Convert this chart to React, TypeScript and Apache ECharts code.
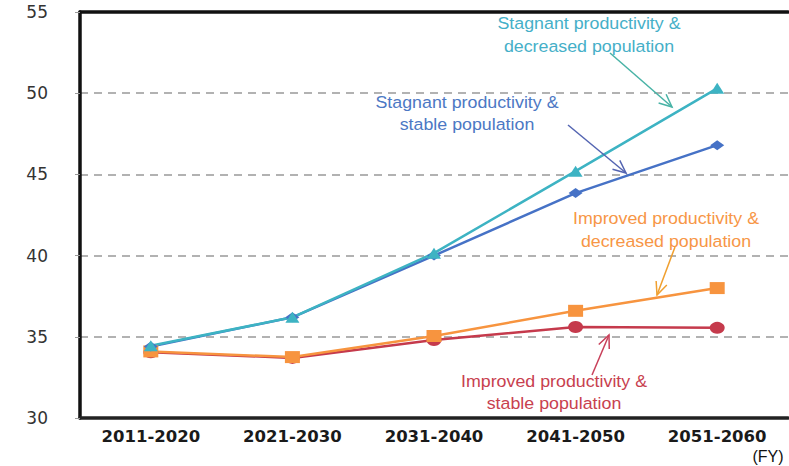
import React, { useEffect, useRef } from "react";
import * as echarts from "echarts";

const categories = ["2011-2020", "2021-2030", "2031-2040", "2041-2050", "2051-2060"];
const stagnantDecreased = [34.45, 36.2, 40.15, 45.2, 50.3];
const stagnantStable = [34.4, 36.2, 40.0, 43.85, 46.8];
const improvedDecreased = [34.1, 33.75, 35.05, 36.6, 38.0];
const improvedStable = [34.05, 33.7, 34.8, 35.6, 35.55];
const yTicks = { min: 30, max: 55, interval: 5 };

function arrow(x1: number, y1: number, x2: number, y2: number, color: string) {
  const ang = Math.atan2(y2 - y1, x2 - x1);
  const len = 14;
  const spread = 0.42;
  const ax = x2 - len * Math.cos(ang - spread);
  const ay = y2 - len * Math.sin(ang - spread);
  const bx = x2 - len * Math.cos(ang + spread);
  const by = y2 - len * Math.sin(ang + spread);
  return [
    { type: "line", shape: { x1, y1, x2, y2 }, style: { stroke: color, lineWidth: 1.5 }, z: 10 },
    {
      type: "polyline",
      shape: { points: [[ax, ay], [x2, y2], [bx, by]] },
      style: { stroke: color, lineWidth: 1.5, fill: null },
      z: 10,
    },
  ];
}

function label(text: string, x: number, y: number, color: string) {
  return {
    type: "text",
    x,
    y,
    scaleX: 1.08,
    z: 10,
    style: {
      text,
      fill: color,
      font: '16.5px "Liberation Sans", Arial, sans-serif',
      textAlign: "center",
      textVerticalAlign: "middle",
    },
  };
}

export default function App() {
  const ref = useRef<HTMLDivElement>(null);
  useEffect(() => {
    document.body.style.margin = "0";
    const chart = echarts.init(ref.current!, null, { renderer: "svg" });
    const teal = "#3DB3C3";
    const blue = "#4672C6";
    const orange = "#F7943F";
    const red = "#C53A4C";
    chart.setOption({
      animation: false,
      backgroundColor: "#ffffff",
      grid: { left: 80, right: 1, top: 12, bottom: 48 },
      xAxis: [
        {
          type: "category",
          data: categories,
          boundaryGap: true,
          axisLine: { lineStyle: { color: "#222", width: 3.5 } },
          axisTick: { show: false },
          axisLabel: {
            color: "#1a1a1a",
            fontFamily: '"DejaVu Sans", Verdana, sans-serif',
            fontSize: 16.5,
            fontWeight: "bold",
            margin: 10,
          },
        },
        {
          type: "category",
          data: categories,
          position: "top",
          axisLine: { lineStyle: { color: "#111", width: 3.5 } },
          axisTick: { show: false },
          axisLabel: { show: false },
        },
      ],
      yAxis: {
        type: "value",
        min: yTicks.min,
        max: yTicks.max,
        interval: yTicks.interval,
        axisLine: { show: true, lineStyle: { color: "#111", width: 3.5 } },
        axisTick: { show: true, length: 5, lineStyle: { color: "#999" } },
        axisLabel: {
          color: "#333",
          fontFamily: '"DejaVu Sans", Verdana, sans-serif',
          fontSize: 17,
          margin: 32,
        },
        splitLine: { show: true, lineStyle: { color: "#999", type: [8, 6], width: 1.5 } },
      },
      series: [
        {
          type: "line",
          data: improvedStable,
          color: red,
          symbol: "circle",
          symbolSize: [15, 12],
          lineStyle: { width: 2.5 },
        },
        {
          type: "line",
          data: improvedDecreased,
          color: orange,
          symbol: "rect",
          symbolSize: [15, 12],
          lineStyle: { width: 2.5 },
        },
        {
          type: "line",
          data: stagnantStable,
          color: blue,
          symbol: "diamond",
          symbolSize: [14, 10],
          lineStyle: { width: 2.5 },
        },
        {
          type: "line",
          data: stagnantDecreased,
          color: teal,
          symbol: "triangle",
          symbolSize: [14, 11],
          lineStyle: { width: 2.5 },
        },
      ],
      graphic: [
        label("Stagnant productivity &", 589, 23, "#45AFC8"),
        label("decreased population", 589, 46, "#45AFC8"),
        ...arrow(610, 53, 672, 107, "#48B3A6"),
        label("Stagnant productivity &", 467, 102, "#4C78C4"),
        label("stable population", 467, 124, "#4C78C4"),
        ...arrow(568, 125, 626, 173, "#5465B2"),
        label("Improved productivity &", 666, 218, "#F79646"),
        label("decreased population", 666, 241, "#F79646"),
        ...arrow(675, 247, 657, 295, "#F0A030"),
        label("Improved productivity &", 554, 381, "#C8414F"),
        label("stable population", 554, 403, "#C8414F"),
        ...arrow(592, 375, 609, 335, "#C8405A"),
        {
          type: "text",
          x: 768,
          y: 456,
          z: 10,
          style: {
            text: "(FY)",
            fill: "#111",
            font: '16px "Liberation Sans", Arial, sans-serif',
            textAlign: "center",
            textVerticalAlign: "middle",
          },
        },
      ],
    });
    return () => chart.dispose();
  }, []);
  return <div ref={ref} style={{ width: 789, height: 466 }} />;
}
